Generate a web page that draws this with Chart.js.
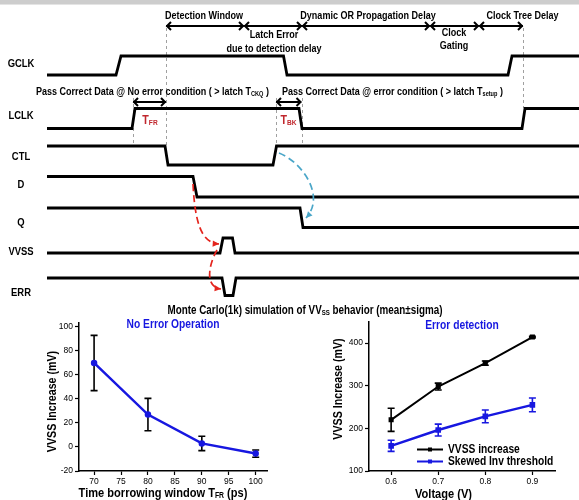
<!DOCTYPE html>
<html>
<head>
<meta charset="utf-8">
<title>Timing error detection and VVSS Monte Carlo</title>
<script src="https://cdn.jsdelivr.net/npm/chart.js@4.4.1/dist/chart.umd.min.js"></script>
<style>
  body { margin: 0; background: #fff; }
  #wrap { position: relative; width: 579px; height: 500px; overflow: hidden; background: #fff; }
  #wrap canvas { position: absolute; }
  .band { position: absolute; left: 0; top: 0; width: 579px; height: 4px; background: #cdcdcd; border-bottom: 1px solid #e4e4e4; }
</style>
</head>
<body>
<div id="wrap">
  <div class="band"></div>
  <canvas id="timing" width="579" height="320" style="left:0;top:0"></canvas>
  <canvas id="noErr" width="290" height="200" style="left:0;top:300px"></canvas>
  <canvas id="errDet" width="290" height="200" style="left:290px;top:300px"></canvas>
</div>
<script>
// timing diagram: each wave is [time, logic level]
const signalNames = ['GCLK', 'LCLK', 'CTL', 'D', 'Q', 'VVSS', 'ERR'];
const gclkWave = [[47, 0], [116, 0], [121, 1], [283.5, 1], [287, 0], [508, 0], [512, 1], [579, 1]];
const lclkWave = [[47, 0], [132, 0], [135, 1], [299, 1], [302, 0], [522, 0], [525, 1], [579, 1]];
const ctlWave = [[47, 1], [165, 1], [168, 0], [273, 0], [276.5, 1], [579, 1]];
const dWave = [[47, 1], [193, 1], [197, 0], [579, 0]];
const qWave = [[47, 1], [300, 1], [303, 0], [579, 0]];
const vvssWave = [[47, 0], [220, 0], [223, 1], [232.5, 1], [235, 0], [579, 0]];
const errWave = [[47, 1], [222, 1], [225, 0], [233, 0], [236, 1], [579, 1]];
const phaseLabels = [['Detection Window'], ['Latch Error', 'due to detection delay'],
  ['Dynamic OR Propagation Delay'], ['Clock', 'Gating'], ['Clock Tree Delay']];
const phaseBounds = [166, 244, 302, 430, 479, 523];

// Monte Carlo, no error operation
const trWindow = [70, 80, 90, 100];
const noErrMean = [70, 27, 3, -5.5];
const noErrSigma = [23, 13.5, 6, 3];
const leftXTicks = [70, 75, 80, 85, 90, 95, 100];
const leftYTicks = [-20, 0, 20, 40, 60, 80, 100];

// Monte Carlo, error detection
const voltage = [0.6, 0.7, 0.8, 0.9];
const vvssMean = [220, 298, 353, 414];
const vvssSigma = [27, 8, 5, 2];
const skewMean = [159, 196, 228, 255];
const skewSigma = [13, 14, 15, 16];
const rightXTicks = [0.6, 0.7, 0.8, 0.9];
const rightYTicks = [100, 200, 300, 400];

// is a narrow face installed? otherwise squeeze the regular one
const probe = document.createElement('canvas').getContext('2d');
probe.font = 'bold 20px "Liberation Sans Narrow", monospace';
const wNarrow = probe.measureText('abcdefgh').width;
probe.font = 'bold 20px monospace';
const HAS_NARROW = wNarrow !== probe.measureText('abcdefgh').width;
const FF = HAS_NARROW ? '"Liberation Sans Narrow", "Liberation Sans", sans-serif' : '"Liberation Sans", Arial, sans-serif';
const SQ = HAS_NARROW ? 1 : 0.82;
const BLUE = '#1717e0';

// parts: strings, or [text, 'sub']
function richText(ctx, x, y, parts, size, color, align) {
  ctx.save();
  ctx.fillStyle = color;
  ctx.textBaseline = 'middle';
  ctx.textAlign = 'left';
  const segs = parts.map(p => typeof p === 'string'
    ? { t: p, s: size, dy: 0 }
    : { t: p[0], s: size * 0.62, dy: size * 0.22 });
  let total = 0;
  segs.forEach(sg => {
    ctx.font = `bold ${sg.s}px ${FF}`;
    sg.w = ctx.measureText(sg.t).width * SQ;
    total += sg.w;
  });
  let cx = align === 'center' ? x - total / 2 : (align === 'right' ? x - total : x);
  segs.forEach(sg => {
    ctx.font = `bold ${sg.s}px ${FF}`;
    ctx.save();
    ctx.translate(cx, y + sg.dy);
    ctx.scale(SQ, 1);
    ctx.fillText(sg.t, 0, 0);
    ctx.restore();
    cx += sg.w;
  });
  ctx.restore();
}

function dblArrow(ctx, x1, x2, y) {
  ctx.beginPath();
  ctx.moveTo(x1, y); ctx.lineTo(x2, y);
  ctx.moveTo(x1 + 5, y - 4); ctx.lineTo(x1 + 1, y); ctx.lineTo(x1 + 5, y + 4);
  ctx.moveTo(x2 - 5, y - 4); ctx.lineTo(x2 - 1, y); ctx.lineTo(x2 - 5, y + 4);
  ctx.stroke();
}

function dashedCurve(ctx, pts, color) {
  const [p0, c1, c2, p1] = pts;
  ctx.save();
  ctx.strokeStyle = color;
  ctx.fillStyle = color;
  ctx.lineWidth = 1.7;
  ctx.setLineDash([7, 4]);
  ctx.beginPath();
  ctx.moveTo(p0[0], p0[1]);
  ctx.bezierCurveTo(c1[0], c1[1], c2[0], c2[1], p1[0], p1[1]);
  ctx.stroke();
  // head
  const a = Math.atan2(p1[1] - c2[1], p1[0] - c2[0]);
  ctx.setLineDash([]);
  ctx.beginPath();
  ctx.moveTo(p1[0], p1[1]);
  ctx.lineTo(p1[0] - 7 * Math.cos(a - 0.45), p1[1] - 7 * Math.sin(a - 0.45));
  ctx.lineTo(p1[0] - 7 * Math.cos(a + 0.45), p1[1] - 7 * Math.sin(a + 0.45));
  ctx.closePath();
  ctx.fill();
  ctx.restore();
}

// vertical placement of each lane on the diagram's y scale
const lanes = [
  { hi: 56, lo: 75, label: 64 },
  { hi: 108.5, lo: 128.5, label: 116 },
  { hi: 146, lo: 165, label: 157 },
  { hi: 176.5, lo: 197, label: 185 },
  { hi: 208, lo: 227.5, label: 222.5 },
  { hi: 238, lo: 253, label: 251.5 },
  { hi: 278, lo: 295.5, label: 293 }
];
const waves = [gclkWave, lclkWave, ctlWave, dWave, qWave, vvssWave, errWave];

const timingDecor = {
  id: 'timingDecor',
  beforeDatasetsDraw(chart) {
    const { ctx, scales: { x, y } } = chart;
    ctx.save();
    ctx.strokeStyle = '#a0a0a0';
    ctx.lineWidth = 1;
    ctx.setLineDash([3, 3]);
    [[133, 98, 146], [166, 28, 146], [276, 98, 146], [301.5, 98, 146], [523, 28, 108]].forEach(([t, a, b]) => {
      const px = Math.round(x.getPixelForValue(t)) + 0.5;
      ctx.beginPath();
      ctx.moveTo(px, y.getPixelForValue(a));
      ctx.lineTo(px, y.getPixelForValue(b));
      ctx.stroke();
    });
    ctx.restore();
  },
  afterDatasetsDraw(chart) {
    const { ctx, scales: { x, y } } = chart;
    const X = v => x.getPixelForValue(v), Y = v => y.getPixelForValue(v);

    signalNames.forEach((n, i) => richText(ctx, X(21), Y(lanes[i].label), [n], 11.5, '#000', 'center'));

    // phase arrows along the top
    ctx.save();
    ctx.strokeStyle = '#000';
    ctx.lineWidth = 2;
    for (let i = 0; i < phaseLabels.length; i++) {
      dblArrow(ctx, X(phaseBounds[i]), X(phaseBounds[i + 1]), Y(26));
    }
    dblArrow(ctx, X(133), X(166), Y(102));
    dblArrow(ctx, X(276), X(301.5), Y(102));
    ctx.restore();

    const above = [15.5, null, 15.5, null, 15.5];
    const textX = [204, 274, 368, 454, 522.5];
    phaseLabels.forEach((lines, i) => {
      if (above[i] !== null) {
        richText(ctx, X(textX[i]), Y(above[i]), [lines[0]], 11, '#000', 'center');
      } else {
        const y0 = i === 1 ? 35 : 32.5;
        const y1 = i === 1 ? 48.5 : 46;
        richText(ctx, X(textX[i]), Y(y0), [lines[0]], 11, '#000', 'center');
        richText(ctx, X(textX[i]), Y(y1), [lines[1]], 11, '#000', 'center');
      }
    });

    richText(ctx, X(36), Y(91.5), ['Pass Correct Data @ No error condition ( > latch T', ['CKQ', 'sub'], ' )'], 11, '#000', 'left');
    richText(ctx, X(282), Y(91.5), ['Pass Correct Data @ error condition ( > latch T', ['setup', 'sub'], ' )'], 11, '#000', 'left');
    richText(ctx, X(150), Y(120), ['T', ['FR', 'sub']], 13, '#c0272d', 'center');
    richText(ctx, X(288.5), Y(120), ['T', ['BK', 'sub']], 13, '#c0272d', 'center');

    dashedCurve(ctx, [[X(279), Y(153)], [X(302), Y(162)], [X(326), Y(196)], [X(306), Y(218)]], '#4aa6c8');
    dashedCurve(ctx, [[X(193), Y(184)], [X(195), Y(222)], [X(201), Y(243)], [X(219), Y(244)]], '#e4241d');
    dashedCurve(ctx, [[X(217), Y(250)], [X(209), Y(264)], [X(204), Y(287)], [X(221), Y(289)]], '#e4241d');

    richText(ctx, X(305), Y(310.5), ['Monte Carlo(1k) simulation of VV', ['SS', 'sub'], ' behavior (mean\u00b1sigma)'], 12, '#000', 'center');
  }
};

new Chart(document.getElementById('timing'), {
  type: 'line',
  data: {
    datasets: waves.map((w, i) => ({
      label: signalNames[i],
      data: w.map(([t, lvl]) => ({ x: t, y: lanes[i].lo - lvl * (lanes[i].lo - lanes[i].hi) })),
      borderColor: '#000',
      borderWidth: 2.8,
      pointRadius: 0,
      tension: 0,
      fill: false,
      borderJoinStyle: 'miter'
    }))
  },
  options: {
    responsive: false,
    animation: false,
    layout: { padding: 0 },
    scales: {
      x: { type: 'linear', display: false, min: 0, max: 579 },
      y: { type: 'linear', display: false, min: 0, max: 320, reverse: true }
    },
    plugins: { legend: { display: false }, tooltip: { enabled: false } }
  },
  plugins: [timingDecor]
});

// error bars from each dataset's sigma
const errorBars = {
  id: 'errorBars',
  beforeDatasetsDraw(chart) {
    const { ctx, scales: { x, y } } = chart;
    chart.data.datasets.forEach(ds => {
      ctx.save();
      ctx.strokeStyle = ds.errColor;
      ctx.lineWidth = 1.6;
      ds.data.forEach((p, j) => {
        const px = x.getPixelForValue(p.x);
        const top = y.getPixelForValue(p.y + ds.sigma[j]);
        const bot = y.getPixelForValue(p.y - ds.sigma[j]);
        ctx.beginPath();
        ctx.moveTo(px, top); ctx.lineTo(px, bot);
        ctx.moveTo(px - 3.5, top); ctx.lineTo(px + 3.5, top);
        ctx.moveTo(px - 3.5, bot); ctx.lineTo(px + 3.5, bot);
        ctx.stroke();
      });
      ctx.restore();
    });
  }
};

function axis(min, max, ticks, fmt, isY) {
  return {
    type: 'linear',
    min, max,
    afterBuildTicks: s => { s.ticks = ticks.map(v => ({ value: v })); },
    afterFit: s => { if (isY) s.width = 40; else s.height = 29; },
    border: { color: '#000', width: 1.5 },
    grid: { drawOnChartArea: false, tickLength: 4, tickColor: '#000', tickWidth: 1.2 },
    ticks: {
      color: '#000',
      padding: 2,
      maxRotation: 0,
      font: { family: FF, size: HAS_NARROW ? 10 : 8.5 },
      callback: v => fmt(v)
    }
  };
}

const leftDecor = {
  id: 'leftDecor',
  afterDraw(chart) {
    const { ctx } = chart;
    richText(ctx, 173, 25, ['No Error Operation'], 12.5, BLUE, 'center');
    richText(ctx, 163, 193, ['Time borrowing window T', ['FR', 'sub'], ' (ps)'], 13.5, '#000', 'center');
    ctx.save();
    ctx.translate(52, 101.5);
    ctx.rotate(-Math.PI / 2);
    richText(ctx, 0, 0, ['VVSS Increase (mV)'], 13, '#000', 'center');
    ctx.restore();
  }
};

new Chart(document.getElementById('noErr'), {
  type: 'line',
  data: {
    datasets: [{
      label: 'No Error Operation',
      data: trWindow.map((t, i) => ({ x: t, y: noErrMean[i] })),
      sigma: noErrSigma,
      errColor: '#000',
      borderColor: BLUE,
      backgroundColor: BLUE,
      borderWidth: 2.5,
      pointRadius: 2,
      tension: 0
    }]
  },
  options: {
    responsive: false,
    animation: false,
    layout: { padding: { left: 39, right: 23, top: 23, bottom: 0 } },
    scales: {
      x: axis(67.2, 102.1, leftXTicks, v => String(v), false),
      y: axis(-20, 103.3, leftYTicks, v => String(v), true)
    },
    plugins: { legend: { display: false }, tooltip: { enabled: false } }
  },
  plugins: [errorBars, leftDecor]
});

const rightDecor = {
  id: 'rightDecor',
  afterDraw(chart) {
    const { ctx } = chart;
    richText(ctx, 172, 25.5, ['Error detection'], 12.5, BLUE, 'center');
    richText(ctx, 153.5, 194, ['Voltage (V)'], 13.5, '#000', 'center');
    ctx.save();
    ctx.translate(48, 89);
    ctx.rotate(-Math.PI / 2);
    richText(ctx, 0, 0, ['VVSS Increase (mV)'], 13, '#000', 'center');
    ctx.restore();
    // legend inside the plot
    chart.data.datasets.forEach((ds, i) => {
      const ly = 149.5 + i * 12;
      ctx.save();
      ctx.strokeStyle = ds.borderColor;
      ctx.fillStyle = ds.borderColor;
      ctx.lineWidth = 2;
      ctx.beginPath();
      ctx.moveTo(127, ly); ctx.lineTo(153, ly);
      ctx.stroke();
      ctx.fillRect(138, ly - 2, 4, 4);
      ctx.restore();
      richText(ctx, 158, ly, [ds.label], 12.5, '#000', 'left');
    });
  }
};

new Chart(document.getElementById('errDet'), {
  type: 'line',
  data: {
    datasets: [{
      label: 'VVSS increase',
      data: voltage.map((v, i) => ({ x: v, y: vvssMean[i] })),
      sigma: vvssSigma,
      errColor: '#000',
      borderColor: '#000',
      backgroundColor: '#000',
      borderWidth: 2,
      pointStyle: 'rect',
      pointRadius: 2.2,
      tension: 0
    }, {
      label: 'Skewed Inv threshold',
      data: voltage.map((v, i) => ({ x: v, y: skewMean[i] })),
      sigma: skewSigma,
      errColor: BLUE,
      borderColor: BLUE,
      backgroundColor: BLUE,
      borderWidth: 2.5,
      pointStyle: 'rect',
      pointRadius: 2.2,
      tension: 0
    }]
  },
  options: {
    responsive: false,
    animation: false,
    layout: { padding: { left: 39, right: 25, top: 21.7, bottom: 0 } },
    scales: {
      x: axis(0.553, 0.948, rightXTicks, v => v.toFixed(1), false),
      y: axis(100, 450, rightYTicks, v => String(v), true)
    },
    plugins: { legend: { display: false }, tooltip: { enabled: false } }
  },
  plugins: [errorBars, rightDecor]
});
</script>
</body>
</html>
